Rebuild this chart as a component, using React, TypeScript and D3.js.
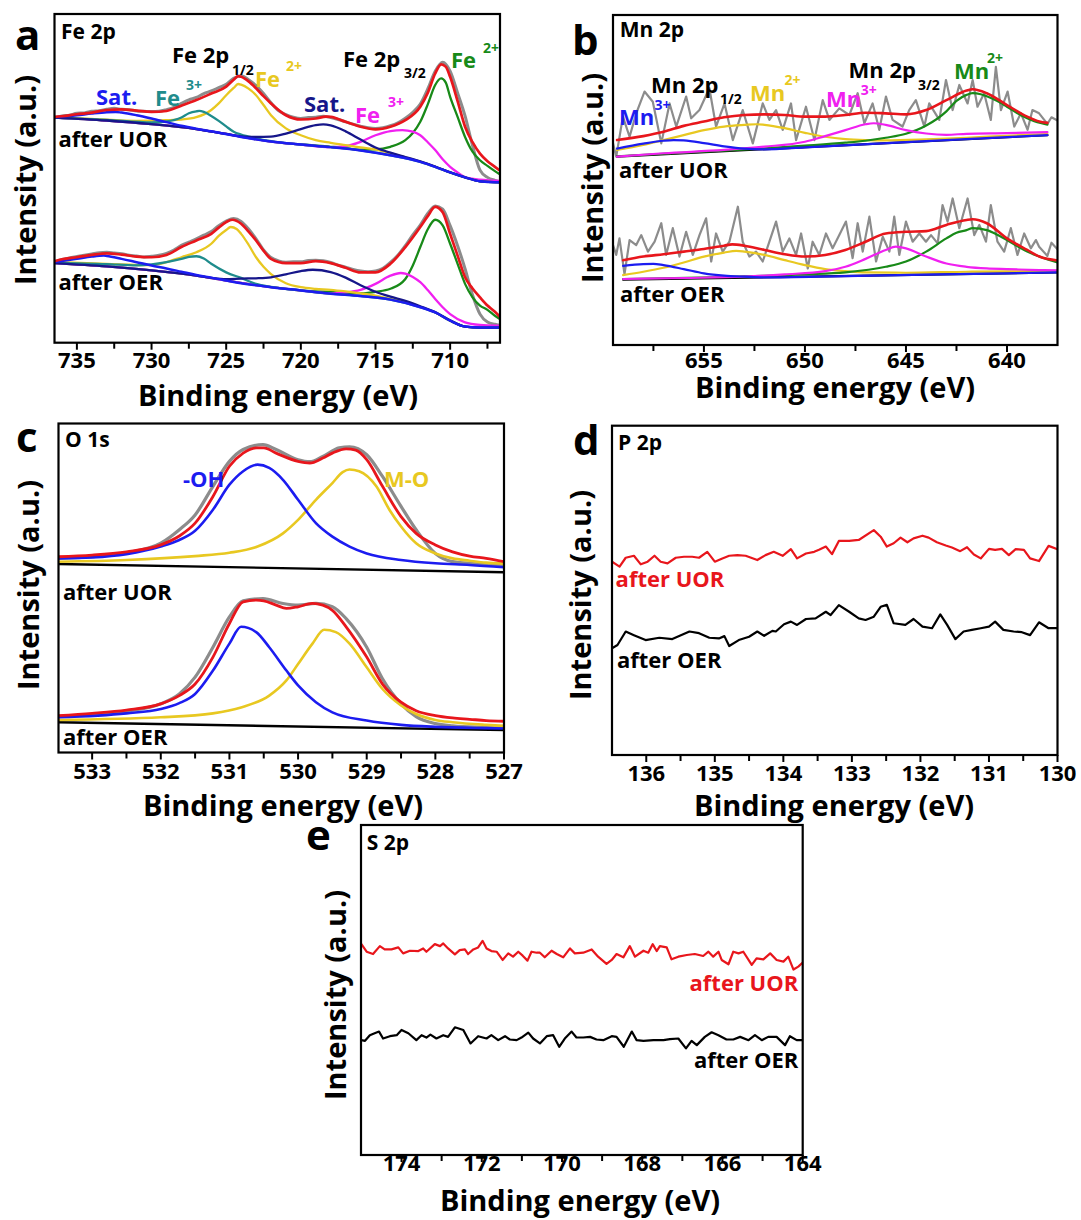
import React from "react";
import * as d3 from "d3";

type Pt = [number, number];

const FONT = "'Open Sans', 'Noto Sans', 'DejaVu Sans', sans-serif";
const COL = {
  red: "#e8161c", gray: "#8c8c8c", blue: "#1c1cf0", navy: "#16168a", teal: "#1f8c8c",
  yellow: "#e8c821", magenta: "#f020f0", green: "#188a18", black: "#000000",
};

// ---------------- tick values ----------------
const feTicks = [735, 730, 725, 720, 715, 710];
const feMinor = [732.5, 727.5, 722.5, 717.5, 712.5, 707.5];
const mnTicks = [655, 650, 645, 640];
const mnMinor = [657.5, 652.5, 647.5, 642.5];
const oTicks = [533, 532, 531, 530, 529, 528, 527];
const oMinor = [532.5, 531.5, 530.5, 529.5, 528.5, 527.5];
const pTicks = [136, 135, 134, 133, 132, 131, 130];
const pMinor = [135.5, 134.5, 133.5, 132.5, 131.5, 130.5];
const sTicks = [174, 172, 170, 168, 166, 164];
const sMinor = [173, 171, 169, 167, 165];

// ---------------- (a) Fe 2p, after UOR ----------------
const feUorData: Pt[] = [[736.5,68.4],[736,69.0],[735.5,69.2],[735,69.8],[734.5,69.9],[734,70.4],[733.5,70.6],[733,71.0],[732.5,71.3],[732,71.0],[731.5,70.9],[731,70.5],[730.5,70.4],[730,70.3],[729.5,70.4],[729,70.9],[728.5,71.6],[728,72.8],[727.5,73.9],[727,74.6],[726.5,75.8],[726,76.6],[725.5,77.6],[725,78.6],[724.5,80.4],[724,81.2],[723.5,80.0],[723,78.2],[722.5,75.8],[722,73.0],[721.5,70.6],[721,69.4],[720.5,68.6],[720,68.2],[719.5,68.5],[719,68.6],[718.5,68.9],[718,68.5],[717.5,67.9],[717,67.2],[716.5,66.5],[716,65.9],[715.5,65.4],[715,65.2],[714.5,65.4],[714,66.0],[713.5,66.9],[713,68.3],[712.5,70.1],[712,72.6],[711.5,77.2],[711,82.6],[710.5,85.3],[710,82.6],[709.5,76.0],[709,69.0],[708.5,60.0],[708,52.5],[707.5,50.3],[707,49.4],[706.7,49.0]];
const feUorFit: Pt[] = [[736.5,68.7],[736,68.9],[735,69.5],[734,70.0],[733,70.8],[732,71.0],[731,70.6],[730,70.2],[729,70.5],[728,72.1],[727,73.8],[726,75.8],[725,77.9],[724.5,80.0],[724.2,81.1],[724,80.9],[723.5,79.5],[723,77.4],[722.5,75.0],[722,72.8],[721,69.2],[720,67.9],[719,68.2],[718.3,68.8],[718,68.7],[717,67.2],[716,65.7],[715,64.9],[714,65.7],[713,67.7],[712,71.8],[711.5,76.0],[711,81.9],[710.6,84.7],[710.3,84.0],[710,80.9],[709.5,73.5],[709,65.7],[708.5,61.0],[708,57.5],[707.5,55.2],[707,53.5],[706.7,52.5]];
const feUorSatA: Pt[] = [[736.5,68.6],[735,69.2],[734,69.7],[733,70.1],[732.4,70.2],[732,70.0],[731,69.2],[730,68.2],[729,67.1],[728,66.0],[727,65.1],[726,64.3],[724,62.6],[722,61.2],[720,60.3],[718,59.5],[716,58.5],[714,57.0],[712,55.0],[711,53.5],[710,51.8],[709,50.3],[708,49.1],[707,48.8],[706.7,48.8]];
const feUorFe3A: Pt[] = [[736.5,68.5],[733,67.8],[730,67.0],[729,67.3],[728,68.5],[727.5,69.8],[727,70.4],[726.8,70.5],[726.5,70.2],[726,69.0],[725.5,67.5],[725,65.8],[724.5,64.2],[724,63.3],[723,62.2],[722,61.3],[720,60.3],[718,59.5],[716,58.5],[714,57.0],[712,55.0],[711,53.5],[710,51.8],[709,50.3],[708,49.1],[706.7,48.8]];
const feUorFe2A: Pt[] = [[736.5,68.6],[734,68.1],[731,67.5],[729,67.7],[728,67.9],[727,68.6],[726,70.8],[725.5,72.8],[725,75.3],[724.5,77.5],[724.2,78.7],[724,78.5],[723.5,77.3],[723,75.3],[722.5,72.3],[722,69.2],[721,65.2],[720,63.1],[719,61.6],[718,60.8],[717,60.1],[716,59.4],[715,58.8],[714,57.6],[713,56.4],[712,55.1],[711,53.5],[710,51.8],[709,50.3],[708,49.1],[706.7,48.8]];
const feUorSatB: Pt[] = [[736.5,68.5],[733,67.6],[730,66.5],[727,65.0],[725,63.5],[724,62.8],[723,62.6],[722,62.7],[721,63.6],[720,65.0],[719,66.2],[718.5,66.4],[718,66.1],[717,64.3],[716,61.8],[715,59.4],[714,57.8],[713,56.5],[712,55.2],[711,53.6],[710,51.8],[709,50.3],[708,49.1],[706.7,48.8]];
const feUorFe3B: Pt[] = [[736.5,68.5],[733,67.6],[730,66.5],[727,65.0],[725,63.5],[722,61.2],[720,60.3],[718,59.5],[717,59.8],[716,61.1],[715,63.1],[714,64.4],[713.2,64.7],[712.5,64.2],[712,63.1],[711.5,61.0],[711,58.6],[710.5,55.8],[710,53.5],[709.5,51.8],[709,50.4],[708,49.6],[707,49.3],[706.7,49.2]];
const feUorFe2B: Pt[] = [[736.5,68.5],[733,67.6],[730,66.5],[727,65.0],[725,63.5],[722,61.2],[720,60.3],[718,59.6],[717,59.2],[716,58.7],[715,58.8],[714,59.6],[713,61.6],[712.5,63.8],[712,67.2],[711.5,72.5],[711,78.4],[710.6,80.4],[710.3,79.2],[710,74.8],[709.5,68.7],[709,62.6],[708.5,58.1],[708,55.5],[707.5,53.8],[707,52.2],[706.7,51.3]];

// ---------------- (a) Fe 2p, after OER ----------------
const feOerData: Pt[] = [[736.5,24.6],[736,25.3],[735.5,25.8],[735,26.2],[734.5,26.6],[734,27.0],[733.5,27.4],[733,27.5],[732.5,27.3],[732,27.1],[731.5,26.6],[731,26.4],[730.5,26.1],[730,26.3],[729.5,26.6],[729,27.2],[728.5,28.2],[728,29.6],[727.5,30.6],[727,31.6],[726.5,32.7],[726,33.8],[725.5,35.6],[725,37.0],[724.5,37.8],[724,36.9],[723.5,34.6],[723,31.6],[722.5,28.2],[722,25.9],[721.5,24.9],[721,24.5],[720.5,24.6],[720,24.6],[719.5,25.0],[719,25.1],[718.5,24.9],[718,24.4],[717.5,23.6],[717,23.0],[716.5,22.3],[716,21.8],[715.5,21.6],[715,21.8],[714.5,22.6],[714,24.4],[713.5,26.6],[713,29.5],[712.5,32.8],[712,35.8],[711.5,39.3],[711,41.6],[710.5,40.6],[710,35.6],[709.5,29.5],[709,22.5],[708.5,14.5],[708,8.7],[707.5,6.3],[707,5.6],[706.7,5.3]];
const feOerFit: Pt[] = [[736.5,24.8],[736,25.4],[735,26.0],[734,26.7],[733,27.2],[732,26.8],[731,26.2],[730,26.0],[729,26.7],[728,29.1],[727,31.1],[726,33.1],[725.5,35.0],[725,36.7],[724.6,37.4],[724,36.2],[723.5,33.8],[723,31.1],[722.5,28.0],[722,25.5],[721,24.2],[720,24.2],[719,24.8],[718,24.2],[717,22.8],[716,21.4],[715,21.4],[714,24.0],[713,29.1],[712,35.2],[711.5,38.5],[711,41.3],[710.5,39.7],[710,33.1],[709.5,26.5],[709,19.9],[708.5,16.5],[708,13.8],[707.5,11.3],[707,9.4],[706.7,8.0]];
const feOerSatA: Pt[] = [[736.5,24.5],[735,25.5],[734,26.2],[733.2,26.5],[733,26.4],[732,25.5],[731,24.5],[730,23.5],[729,22.6],[728,21.6],[727,20.6],[726,19.8],[724,18.1],[722,16.9],[720,15.9],[718,14.9],[716,14.2],[714,13.1],[712,10.8],[711,9.2],[710,6.7],[709,4.9],[708,4.6],[706.7,4.6]];
const feOerFe3A: Pt[] = [[736.5,24.3],[733,23.9],[731,23.5],[730,23.8],[729,24.5],[728,25.5],[727.5,26.1],[727,26.3],[726.5,25.6],[726,24.0],[725,21.4],[724,19.7],[723,17.9],[722,17.0],[720,15.9],[718,14.9],[716,14.2],[714,13.1],[712,10.8],[711,9.2],[710,6.7],[709,4.9],[708,4.6],[706.7,4.6]];
const feOerFe2A: Pt[] = [[736.5,24.6],[733,24.0],[730,23.6],[729,24.5],[728,26.0],[727,27.5],[726,30.1],[725.5,32.5],[725,34.3],[724.7,35.2],[724.3,34.6],[724,33.1],[723.5,29.8],[723,26.0],[722.5,23.1],[722,20.9],[721,18.1],[720,16.9],[719,16.4],[718,16.1],[717,15.6],[716,15.0],[715,14.3],[714,13.3],[713,12.4],[712,10.9],[711,9.2],[710,6.7],[709,4.9],[708,4.6],[706.7,4.6]];
const feOerSatB: Pt[] = [[736.5,24.2],[733,23.2],[730,22.0],[727,20.4],[726,19.7],[725,19.3],[724,19.5],[723,19.6],[722,19.9],[721,20.8],[720,21.8],[719.2,22.2],[718,21.5],[717,19.8],[716,17.5],[715,15.5],[714,14.0],[713,12.7],[712,11.1],[711,9.3],[710,6.8],[709,4.9],[708,4.6],[706.7,4.6]];
const feOerFe3B: Pt[] = [[736.5,24.2],[733,23.2],[730,22.0],[727,20.4],[725,18.9],[722,16.9],[720,15.9],[718,15.0],[717,15.3],[716,16.1],[715,17.9],[714,20.4],[713.3,21.2],[713,21.0],[712.5,20.0],[712,18.4],[711.5,16.0],[711,13.3],[710.5,10.8],[710,8.7],[709,6.2],[708,5.4],[707,5.2],[706.7,5.2]];
const feOerFe2B: Pt[] = [[736.5,24.2],[733,23.2],[730,22.0],[727,20.4],[725,18.9],[722,16.9],[720,15.9],[717,15.2],[716,15.0],[715,15.5],[714,16.4],[713,19.4],[712.5,23.5],[712,29.1],[711.5,34.5],[711,37.4],[710.5,35.7],[710,30.1],[709.5,24.0],[709,17.9],[708.5,13.8],[708,11.3],[707.5,10.0],[707,8.2],[706.7,7.3]];

// ---------------- (b) Mn 2p, after UOR ----------------
const mnUorData: Pt[] = [[659.5,61.1],[659.34,57.1],[659.01,69.2],[658.68,63.1],[658.35,70.2],[657.94,76.8],[657.53,73.7],[657.11,61.1],[656.7,73.2],[656.37,66.2],[655.88,75.3],[655.63,68.7],[655.22,71.2],[654.73,77.8],[654.4,66.2],[653.98,73.2],[653.57,62.1],[653.08,71.2],[652.58,61.1],[652.09,73.2],[651.76,68.2],[651.43,71.2],[651.1,65.2],[650.69,73.2],[650.44,62.1],[649.95,72.2],[649.53,62.1],[649.12,74.2],[648.79,68.2],[648.3,71.7],[647.8,69.7],[647.39,76.3],[647.06,67.2],[646.65,73.2],[646.32,65.2],[645.99,75.3],[645.66,68.2],[645.17,66.2],[644.84,71.2],[644.51,74.2],[644.09,66.2],[643.85,73.2],[643.35,68.2],[643.02,80.3],[642.69,71.2],[642.36,78.8],[641.95,73.2],[641.7,80.3],[641.46,72.2],[641.13,76.3],[640.8,68.2],[640.55,84.3],[640.3,71.2],[639.97,76.8],[639.64,66.2],[639.31,70.2],[638.98,65.2],[638.74,71.2],[638.41,70.2],[638.0,67.0],[637.8,69.0],[637.5,68.0]];
const mnUorFit: Pt[] = [[659.3,62.1],[658,63.3],[657,64.6],[656,66.4],[655,67.7],[654,69.0],[653,69.7],[652,69.9],[651,69.7],[650,69.2],[649,69.2],[648,69.7],[647,70.4],[646,70.2],[645,69.9],[644,71.2],[643,74.2],[642,77.1],[641.7,77.5],[641,76.3],[640,72.7],[639,69.2],[638.4,67.7],[638,67.3]];
const mnUorBg: Pt[] = [[659.3,57.1],[638,63.6]];
const mnUorMn3A: Pt[] = [[659.3,59.5],[658,61.0],[657,61.9],[656.5,62.1],[656,62.0],[655,61.2],[654,60.2],[653,59.5],[652,59.3],[650,59.9],[645,61.5],[640,63.0],[638,63.6]];
const mnUorMn2A: Pt[] = [[659.3,59.1],[658,60.6],[657,62.1],[656,63.6],[655,65.1],[654,66.2],[653,66.7],[652.4,66.9],[652,66.7],[651,65.7],[650,64.3],[649,63.1],[648,62.4],[647,62.1],[646,62.0],[644,62.3],[642,62.8],[640,63.4],[638,63.9]];
const mnUorMn3B: Pt[] = [[659.3,57.1],[657,58.1],[654,59.1],[652,60.1],[650,61.6],[649,63.3],[648,65.1],[647,66.9],[646.6,67.2],[646,66.7],[645,65.1],[644,64.1],[643,63.7],[642,64.0],[640,64.2],[638,64.5]];
const mnUorMn2B: Pt[] = [[659.3,57.2],[655,58.6],[652,59.6],[650,60.4],[648,61.3],[647,61.9],[646,62.8],[645,64.0],[644,66.5],[643,70.8],[642.5,74.0],[642,75.8],[641.7,76.3],[641.3,76.0],[641,75.4],[640.5,74.0],[640,72.2],[639.5,70.3],[639,68.7],[638.5,67.5],[638,66.8]];

// ---------------- (b) Mn 2p, after OER ----------------
const mnOerData: Pt[] = [[659.5,30.3],[659.34,27.3],[659.18,32.3],[658.93,21.5],[658.68,31.8],[658.35,30.3],[658.1,33.3],[657.77,28.3],[657.44,31.3],[657.11,36.9],[656.87,27.3],[656.54,35.4],[656.21,26.8],[655.88,34.3],[655.55,27.3],[655.22,33.3],[654.89,38.4],[654.64,25.3],[654.4,33.8],[654.07,28.3],[653.74,31.3],[653.32,41.9],[653.08,31.3],[652.75,26.8],[652.42,28.3],[652.09,25.3],[651.76,31.3],[651.43,37.4],[651.1,28.3],[650.77,32.3],[650.44,27.3],[650.19,33.8],[649.86,23.2],[649.62,31.3],[649.29,27.3],[648.96,33.8],[648.63,29.3],[648.3,33.3],[647.97,37.4],[647.64,26.3],[647.39,36.9],[647.14,28.3],[646.81,38.9],[646.48,25.3],[646.15,32.8],[645.82,28.3],[645.58,38.9],[645.33,27.3],[645.0,37.4],[644.67,31.3],[644.34,33.8],[644.01,31.3],[643.76,33.3],[643.43,30.8],[643.19,42.4],[642.94,37.4],[642.69,44.4],[642.36,35.4],[641.95,44.4],[641.62,33.3],[641.37,36.4],[641.04,31.3],[640.8,42.4],[640.47,31.3],[640.14,28.3],[639.81,35.4],[639.48,27.3],[639.15,33.8],[638.82,29.3],[638.57,31.8],[638.41,29.8],[638.0,27.0],[637.8,31.0],[637.5,29.0]];
const mnOerFit: Pt[] = [[659,25.7],[658,26.8],[657,27.5],[656,28.3],[655,29.1],[654,30.1],[653.6,30.5],[653,30.1],[652,28.8],[651,27.5],[650,26.8],[649,27.3],[648,28.8],[647,31.3],[646,33.8],[645,34.3],[644,34.5],[643,36.4],[642,37.9],[641.7,38.1],[641,36.9],[640,32.3],[639,28.8],[638.4,26.8],[637.5,25.6]];
const mnOerBg: Pt[] = [[659,19.8],[637.5,22.0]];
const mnOerMn3A: Pt[] = [[659,24.0],[658,24.5],[657.5,24.6],[657,24.2],[656,23.0],[655,21.7],[654,21.0],[653,20.7],[652,20.5],[648,20.9],[644,21.3],[640,21.7],[637.5,22.0]];
const mnOerMn2A: Pt[] = [[659,21.2],[658,22.2],[657,23.4],[656,25.0],[655,26.8],[654,28.0],[653.4,28.5],[653,28.3],[652,27.3],[651,25.7],[650,24.2],[649,23.0],[648,22.4],[647,22.0],[645,21.9],[642,22.2],[640,22.3],[637.5,22.5]];
const mnOerMn3B: Pt[] = [[659,20.0],[656,20.3],[653,20.7],[651,21.4],[649,22.4],[648,23.7],[647,26.1],[646,28.8],[645.5,29.8],[645,29.3],[644,26.8],[643,24.7],[642,23.7],[641,23.2],[640,23.0],[638.4,22.7],[637.5,22.6]];
const mnOerMn2B: Pt[] = [[659,20.0],[654,20.6],[650,21.4],[648,22.0],[646,23.7],[645,25.3],[644,28.3],[643,32.3],[642.5,34.0],[642,34.8],[641.7,35.4],[641,34.8],[640.5,33.5],[640,31.8],[639.5,30.0],[639,28.3],[638.4,26.8],[637.5,25.0]];

// ---------------- (c) O 1s ----------------
const oUorData: Pt[] = [[533.5,59.0],[533,59.5],[532.5,60.7],[532,63.6],[531.73,67.7],[531.5,72.2],[531.24,80.9],[531,88.5],[530.8,92.1],[530.51,93.6],[530.32,92.1],[530,89.0],[529.83,88.4],[529.64,90.0],[529.4,92.6],[529.25,92.9],[529,90.5],[528.77,83.9],[528.5,74.8],[528.28,67.7],[528,60.5],[527.75,58.0],[527.5,57.5],[527.26,57.0],[527,56.8]];
const oUorFit: Pt[] = [[533.5,59.5],[533,60.0],[532.5,61.0],[532,63.1],[531.73,65.8],[531.5,69.7],[531.24,77.8],[531,87.0],[530.8,91.0],[530.6,92.6],[530.5,92.6],[530.32,91.0],[530,88.5],[529.83,88.0],[529.64,89.5],[529.5,91.0],[529.3,92.3],[529.16,91.9],[529,89.0],[528.77,80.9],[528.5,71.7],[528.28,66.6],[528,63.1],[527.75,61.0],[527.5,59.7],[527.26,59.0],[527,58.0]];
const oUorOH: Pt[] = [[533.5,59.0],[533,59.3],[532.5,60.3],[532,62.6],[531.73,64.6],[531.5,67.4],[531.24,73.8],[531,81.4],[530.8,85.5],[530.59,87.5],[530.42,86.5],[530.22,82.9],[530,76.8],[529.74,69.7],[529.5,65.6],[529.25,62.6],[529,60.5],[528.5,58.5],[528,57.5],[527.5,57.0],[527,56.3]];
const oUorMO: Pt[] = [[533.5,58.0],[532.5,58.5],[531.5,59.7],[531,60.7],[530.59,62.6],[530.22,66.6],[530,70.7],[529.74,76.8],[529.5,81.9],[529.35,85.2],[529.25,86.0],[529.11,85.5],[528.86,80.9],[528.67,73.8],[528.5,68.7],[528.28,63.6],[528,60.5],[527.75,59.0],[527.5,58.3],[527.26,57.7],[527,57.4]];
const oUorBg: Pt[] = [[533.5,57.3],[527,54.8]];
const oOerData: Pt[] = [[533.5,10.9],[533,11.4],[532.5,12.6],[532,14.8],[531.73,17.8],[531.5,22.9],[531.24,32.0],[531,41.2],[530.8,46.1],[530.51,46.8],[530.22,45.3],[530,44.8],[529.74,45.3],[529.5,44.3],[529.3,40.7],[529,32.0],[528.77,22.4],[528.5,14.8],[528.28,10.9],[528,8.8],[527.75,8.1],[527.26,7.6],[527,7.4]];
const oOerFit: Pt[] = [[533.5,11.2],[533,11.9],[532.5,12.9],[532,14.8],[531.73,17.3],[531.5,20.8],[531.24,29.0],[531,39.2],[530.8,45.8],[530.61,46.3],[530.5,46.1],[530.32,44.8],[530.17,43.8],[530,44.3],[529.79,45.3],[529.64,44.8],[529.5,43.2],[529.3,38.2],[529,29.0],[528.77,20.8],[528.5,15.3],[528.28,12.7],[528,11.2],[527.75,10.5],[527.5,10.1],[527.26,9.7],[527,9.5]];
const oOerOH: Pt[] = [[533.5,10.7],[532.5,11.9],[532,13.2],[531.73,15.0],[531.5,17.8],[531.24,24.9],[531,33.1],[530.83,38.2],[530.61,36.6],[530.42,32.0],[530.17,24.9],[530,20.4],[529.74,15.3],[529.5,12.2],[529,9.7],[528.5,8.4],[528,7.8],[527.26,7.4],[527,7.3]];
const oOerMO: Pt[] = [[533.5,9.9],[532,10.7],[531.24,11.9],[530.83,13.7],[530.42,17.3],[530.17,21.9],[530,26.9],[529.79,33.1],[529.62,37.3],[529.45,36.6],[529.25,33.1],[529,25.9],[528.77,19.3],[528.5,14.3],[528.28,11.7],[528,9.9],[527.75,9.2],[527.26,8.4],[527,8.1]];
const oOerBg: Pt[] = [[533.5,9.2],[527,6.8]];

// ---------------- (d) P 2p ----------------
const pUor: Pt[] = [[136.5,58.7],[136.39,57.2],[136.3,59.9],[136.18,60.5],[136.08,57.9],[135.98,58.7],[135.88,60.5],[135.79,58.7],[135.69,58.2],[135.57,59.9],[135.45,60.2],[135.33,60.2],[135.23,59.9],[135.11,61.7],[135.0,58.7],[134.89,59.7],[134.79,60.5],[134.67,60.7],[134.55,60.5],[134.38,59.2],[134.26,60.7],[134.14,61.7],[134.01,60.5],[133.89,62.5],[133.8,59.7],[133.67,61.2],[133.55,61.7],[133.48,62.3],[133.38,63.3],[133.29,61.0],[133.19,65.0],[133.04,65.0],[132.9,65.3],[132.68,68.3],[132.58,66.3],[132.49,63.3],[132.39,64.3],[132.29,66.0],[132.19,64.6],[132.1,65.8],[131.97,66.6],[131.88,66.0],[131.76,64.6],[131.63,63.6],[131.54,63.0],[131.42,61.9],[131.32,63.1],[131.22,60.9],[131.12,59.7],[131.0,62.6],[130.91,62.3],[130.81,62.6],[130.71,60.7],[130.61,62.5],[130.49,62.3],[130.4,59.7],[130.27,58.9],[130.13,63.5],[130.0,62.5]];
const pOer: Pt[] = [[136.5,32.4],[136.42,33.4],[136.3,37.5],[136.18,36.4],[136.01,34.9],[135.81,35.6],[135.62,35.2],[135.37,37.5],[135.23,37.0],[135.08,35.6],[134.94,35.4],[134.86,36.1],[134.79,33.1],[134.65,34.9],[134.5,35.9],[134.38,37.5],[134.28,36.2],[134.16,37.7],[134.11,37.5],[133.99,39.7],[133.89,40.5],[133.8,39.5],[133.67,41.3],[133.53,41.5],[133.38,43.5],[133.31,42.5],[133.19,45.5],[133.04,43.5],[132.9,41.5],[132.8,41.0],[132.68,42.0],[132.58,45.0],[132.49,45.6],[132.39,40.0],[132.22,39.5],[132.1,41.3],[131.97,39.0],[131.83,38.5],[131.71,42.7],[131.61,39.5],[131.49,35.2],[131.37,37.5],[131.25,38.0],[131.12,38.5],[131.0,39.0],[130.91,40.5],[130.79,38.0],[130.64,37.5],[130.52,37.3],[130.4,36.4],[130.27,40.3],[130.13,38.5],[130.0,38.5]];

// ---------------- (e) S 2p ----------------
const sUor: Pt[] = [[175.0,63.9],[174.87,61.6],[174.71,60.9],[174.54,63.3],[174.42,62.3],[174.25,62.3],[174.08,62.9],[173.96,61.1],[173.79,61.9],[173.58,61.8],[173.46,62.6],[173.38,61.6],[173.17,63.9],[173.04,63.3],[172.96,64.1],[172.84,62.6],[172.67,60.8],[172.55,62.1],[172.42,62.3],[172.34,60.9],[172.21,62.3],[172.09,62.9],[171.98,64.9],[171.88,62.6],[171.76,61.8],[171.63,61.6],[171.48,59.1],[171.34,61.1],[171.22,60.1],[171.09,61.6],[170.98,60.4],[170.86,58.9],[170.76,61.6],[170.63,61.3],[170.55,61.3],[170.43,59.9],[170.26,61.9],[170.13,60.9],[169.97,59.9],[169.8,62.6],[169.68,61.1],[169.47,61.3],[169.26,62.3],[169.1,60.1],[168.89,57.9],[168.76,59.1],[168.64,60.9],[168.47,59.9],[168.31,63.3],[168.18,60.1],[167.97,61.9],[167.85,61.3],[167.74,63.9],[167.64,61.8],[167.56,63.3],[167.39,62.9],[167.27,59.3],[167.1,60.1],[166.89,60.6],[166.69,60.9],[166.48,60.3],[166.35,61.6],[166.23,60.1],[166.1,61.6],[166.02,59.1],[165.85,57.8],[165.73,61.6],[165.6,61.1],[165.48,61.6],[165.27,57.6],[165.15,59.6],[164.98,59.3],[164.81,61.1],[164.65,59.1],[164.48,58.6],[164.36,60.1],[164.23,56.2],[164.11,57.1],[164.0,58.3]];
const sOer: Pt[] = [[175.0,34.8],[174.91,34.6],[174.79,36.3],[174.67,36.9],[174.56,37.4],[174.46,35.3],[174.29,36.0],[174.12,36.3],[174.0,37.9],[173.83,36.9],[173.63,34.8],[173.5,36.3],[173.38,35.6],[173.28,36.5],[173.13,35.3],[172.96,36.3],[172.84,35.8],[172.67,38.7],[172.46,37.9],[172.28,33.8],[172.09,36.0],[171.88,35.3],[171.76,36.3],[171.59,34.8],[171.42,36.0],[171.3,35.0],[171.13,34.8],[171.01,35.6],[170.84,37.1],[170.72,35.3],[170.55,33.8],[170.38,36.0],[170.22,36.3],[170.07,32.8],[169.93,35.3],[169.76,37.4],[169.64,35.6],[169.47,35.6],[169.3,35.8],[169.14,35.0],[168.97,34.8],[168.76,36.0],[168.64,35.8],[168.46,32.8],[168.26,37.4],[168.14,34.8],[167.97,34.6],[167.72,34.8],[167.47,34.8],[167.31,35.1],[167.1,35.3],[166.91,32.3],[166.77,34.6],[166.64,33.3],[166.44,35.8],[166.27,37.2],[166.1,36.3],[165.9,35.0],[165.73,35.0],[165.56,35.8],[165.35,34.8],[165.19,36.3],[165.02,34.8],[164.86,35.8],[164.65,35.8],[164.44,33.3],[164.32,36.0],[164.15,34.8],[164.0,34.8]];

// ---------------- helpers ----------------
interface Frame { x0: number; x1: number; y0: number; y1: number }
type Scale = d3.ScaleLinear<number, number>;

const mkLine = (x: Scale, y: Scale, data: Pt[], smooth: boolean) =>
  d3.line<Pt>().x(d => x(d[0])).y(d => y(d[1])).curve(smooth ? d3.curveMonotoneX : d3.curveLinear)(data) || "";

interface Curve { data: Pt[]; color: string; w: number; smooth?: boolean }

interface Lbl { t: string; x: number; y: number; s: number; c?: string; a?: "start" | "end" | "middle" }

function Panel(props: {
  id: string; f: Frame; dom: [number, number]; ticks: number[]; minor: number[];
  tickY: number; titleX: number; titleY: number; yTitleX: number; yTitleY: number;
  curves: Curve[]; labels: Lbl[];
}) {
  const { id, f, dom, ticks, minor, tickY, titleX, titleY, yTitleX, yTitleY, curves, labels } = props;
  const x = d3.scaleLinear().domain(dom).range([f.x0, f.x1]);
  const y = d3.scaleLinear().domain([0, 100]).range([f.y1, f.y0]);
  return (
    <g>
      <defs>
        <clipPath id={"clip-" + id}>
          <rect x={f.x0} y={f.y0} width={f.x1 - f.x0} height={f.y1 - f.y0} />
        </clipPath>
      </defs>
      <g clipPath={`url(#clip-${id})`}>
        {curves.map((c, i) => (
          <path key={i} d={mkLine(x, y, c.data, c.smooth !== false)} fill="none" stroke={c.color}
            strokeWidth={c.w} strokeLinejoin="round" strokeLinecap="round" />
        ))}
      </g>
      <rect x={f.x0} y={f.y0} width={f.x1 - f.x0} height={f.y1 - f.y0} fill="none" stroke="#000" strokeWidth={2.2} />
      {ticks.map(t => (
        <line key={"M" + t} x1={x(t)} x2={x(t)} y1={f.y1} y2={f.y1 + 7} stroke="#000" strokeWidth={2} />
      ))}
      {minor.map(t => (
        <line key={"m" + t} x1={x(t)} x2={x(t)} y1={f.y1} y2={f.y1 + 6} stroke="#000" strokeWidth={2} />
      ))}
      {ticks.map(t => (
        <text key={"L" + t} x={x(t)} y={tickY} textAnchor="middle" fontSize={22} fontWeight={700}>{t}</text>
      ))}
      <text x={titleX} y={titleY} textAnchor="middle" fontSize={29} fontWeight={700}>Binding energy (eV)</text>
      <text transform={`translate(${yTitleX},${yTitleY}) rotate(-90)`} textAnchor="middle" dy="0.36em"
        fontSize={29} fontWeight={700}>Intensity (a.u.)</text>
      {labels.map((l, i) => (
        <text key={i} x={l.x} y={l.y} fontSize={l.s} fontWeight={700} fill={l.c || "#000"}
          textAnchor={l.a || "start"}>{l.t}</text>
      ))}
    </g>
  );
}

export default function App() {
  const fa: Frame = { x0: 54.5, x1: 500, y0: 14, y1: 342.7 };
  const fb: Frame = { x0: 613, x1: 1057.5, y0: 15, y1: 345 };
  const fc: Frame = { x0: 58.5, x1: 504, y0: 423.5, y1: 752.5 };
  const fd: Frame = { x0: 612, x1: 1057.5, y0: 425.7, y1: 755 };
  const fe: Frame = { x0: 361, x1: 802.7, y0: 825, y1: 1155 };

  const feCurves = (d: Pt[], fit: Pt[], sa: Pt[], f3a: Pt[], f2a: Pt[], sb: Pt[], f3b: Pt[], f2b: Pt[]): Curve[] => [
    { data: d, color: COL.gray, w: 3 },
    { data: f2b, color: COL.green, w: 2.3 },
    { data: f3b, color: COL.magenta, w: 2.3 },
    { data: f2a, color: COL.yellow, w: 2.3 },
    { data: f3a, color: COL.teal, w: 2.3 },
    { data: sb, color: COL.navy, w: 2.3 },
    { data: sa, color: COL.blue, w: 2.5 },
    { data: fit, color: COL.red, w: 2.7 },
  ];
  const mnCurves = (d: Pt[], fit: Pt[], bg: Pt[], m3a: Pt[], m2a: Pt[], m3b: Pt[], m2b: Pt[]): Curve[] => [
    { data: d, color: COL.gray, w: 2.2, smooth: false },
    { data: bg, color: COL.black, w: 2.2, smooth: false },
    { data: m2a, color: COL.yellow, w: 2.2 },
    { data: m2b, color: COL.green, w: 2.2 },
    { data: m3b, color: COL.magenta, w: 2.2 },
    { data: m3a, color: COL.blue, w: 2.2 },
    { data: fit, color: COL.red, w: 2.6 },
  ];
  const oCurves = (d: Pt[], fit: Pt[], bg: Pt[], oh: Pt[], mo: Pt[]): Curve[] => [
    { data: d, color: COL.gray, w: 3.2 },
    { data: bg, color: COL.black, w: 2.4, smooth: false },
    { data: mo, color: COL.yellow, w: 2.6 },
    { data: oh, color: COL.blue, w: 2.6 },
    { data: fit, color: COL.red, w: 2.8 },
  ];

  const sup = 14, big = 22, head = 21;

  return (
    <svg width={1081} height={1220} viewBox="0 0 1081 1220"
      style={{ position: "absolute", left: 0, top: 0, background: "#fff" }} fontFamily={FONT}>
      <rect x={0} y={0} width={1081} height={1220} fill="#fff" />

      {/* (a) */}
      <Panel id="a" f={fa} dom={[736.5, 706.66]} ticks={feTicks} minor={feMinor} tickY={368}
        titleX={278} titleY={406} yTitleX={26} yTitleY={180}
        curves={[
          ...feCurves(feUorData, feUorFit, feUorSatA, feUorFe3A, feUorFe2A, feUorSatB, feUorFe3B, feUorFe2B),
          ...feCurves(feOerData, feOerFit, feOerSatA, feOerFe3A, feOerFe2A, feOerSatB, feOerFe3B, feOerFe2B),
        ]}
        labels={[
          { t: "Fe 2p", x: 61, y: 38.5, s: head },
          { t: "Fe 2p", x: 172, y: 63.3, s: big }, { t: "1/2", x: 232, y: 74.5, s: sup },
          { t: "Fe", x: 255, y: 87.3, s: big, c: COL.yellow }, { t: "2+", x: 286, y: 71, s: sup, c: COL.yellow },
          { t: "Sat.", x: 96, y: 105, s: big, c: COL.blue },
          { t: "Fe", x: 155, y: 106, s: big, c: COL.teal }, { t: "3+", x: 186, y: 90, s: sup, c: COL.teal },
          { t: "Sat.", x: 304, y: 112, s: big, c: COL.navy },
          { t: "Fe", x: 355, y: 122.7, s: big, c: COL.magenta }, { t: "3+", x: 388, y: 107, s: sup, c: COL.magenta },
          { t: "Fe 2p", x: 343, y: 66.7, s: big }, { t: "3/2", x: 404, y: 77.5, s: sup },
          { t: "Fe", x: 451, y: 68.3, s: big, c: COL.green }, { t: "2+", x: 483, y: 53, s: sup, c: COL.green },
          { t: "after UOR", x: 58.5, y: 146.7, s: big },
          { t: "after OER", x: 58.5, y: 290, s: big },
        ]} />
      <text x={15} y={50} fontSize={42} fontWeight={700}>a</text>

      {/* (b) */}
      <Panel id="b" f={fb} dom={[659.5, 637.5]} ticks={mnTicks} minor={mnMinor} tickY={368}
        titleX={835} titleY={398} yTitleX={593} yTitleY={178}
        curves={[
          ...mnCurves(mnUorData, mnUorFit, mnUorBg, mnUorMn3A, mnUorMn2A, mnUorMn3B, mnUorMn2B),
          ...mnCurves(mnOerData, mnOerFit, mnOerBg, mnOerMn3A, mnOerMn2A, mnOerMn3B, mnOerMn2B),
        ]}
        labels={[
          { t: "Mn 2p", x: 619.7, y: 36.7, s: head },
          { t: "Mn 2p", x: 651, y: 92.7, s: big }, { t: "1/2", x: 720, y: 103.5, s: sup },
          { t: "Mn", x: 750, y: 100.7, s: big, c: COL.yellow }, { t: "2+", x: 784.4, y: 85, s: sup, c: COL.yellow },
          { t: "Mn", x: 619, y: 125, s: big, c: COL.blue }, { t: "3+", x: 654.4, y: 110, s: sup, c: COL.blue },
          { t: "Mn", x: 826, y: 107.3, s: big, c: COL.magenta }, { t: "3+", x: 860.7, y: 94.5, s: sup, c: COL.magenta },
          { t: "Mn 2p", x: 848.6, y: 78, s: big }, { t: "3/2", x: 918, y: 89.5, s: sup },
          { t: "Mn", x: 954, y: 79.3, s: big, c: COL.green }, { t: "2+", x: 987, y: 63, s: sup, c: COL.green },
          { t: "after UOR", x: 619, y: 178, s: big },
          { t: "after OER", x: 620, y: 301.7, s: big },
        ]} />
      <text x={572} y={55} fontSize={42} fontWeight={700}>b</text>

      {/* (c) */}
      <Panel id="c" f={fc} dom={[533.49, 527]} ticks={oTicks} minor={oMinor} tickY={779}
        titleX={283} titleY={816} yTitleX={28.5} yTitleY={585}
        curves={[
          ...oCurves(oUorData, oUorFit, oUorBg, oUorOH, oUorMO),
          ...oCurves(oOerData, oOerFit, oOerBg, oOerOH, oOerMO),
        ]}
        labels={[
          { t: "O 1s", x: 65, y: 446.7, s: head },
          { t: "-OH", x: 183, y: 487.3, s: big, c: COL.blue },
          { t: "M-O", x: 384, y: 487.3, s: big, c: COL.yellow },
          { t: "after UOR", x: 63, y: 600, s: big },
          { t: "after OER", x: 63, y: 745, s: big },
        ]} />
      <text x={16} y={452} fontSize={42} fontWeight={700}>c</text>

      {/* (d) */}
      <Panel id="d" f={fd} dom={[136.5, 130]} ticks={pTicks} minor={pMinor} tickY={781}
        titleX={834} titleY={816} yTitleX={580.7} yTitleY={595}
        curves={[
          { data: pUor, color: COL.red, w: 2.2, smooth: false },
          { data: pOer, color: COL.black, w: 2.2, smooth: false },
        ]}
        labels={[
          { t: "P 2p", x: 618, y: 450, s: head },
          { t: "after UOR", x: 615.6, y: 587.3, s: big, c: COL.red },
          { t: "after OER", x: 617, y: 668.3, s: big },
        ]} />
      <text x={573} y={455} fontSize={42} fontWeight={700}>d</text>

      {/* (e) */}
      <Panel id="e" f={fe} dom={[175.01, 164]} ticks={sTicks} minor={sMinor} tickY={1171}
        titleX={580} titleY={1211} yTitleX={336} yTitleY={995}
        curves={[
          { data: sUor, color: COL.red, w: 2.2, smooth: false },
          { data: sOer, color: COL.black, w: 2.2, smooth: false },
        ]}
        labels={[
          { t: "S 2p", x: 366.7, y: 850, s: head },
          { t: "after UOR", x: 798.3, y: 990.7, s: big, c: COL.red, a: "end" },
          { t: "after OER", x: 798.3, y: 1068.3, s: big, a: "end" },
        ]} />
      <text x={306} y={850} fontSize={42} fontWeight={700}>e</text>
    </svg>
  );
}
